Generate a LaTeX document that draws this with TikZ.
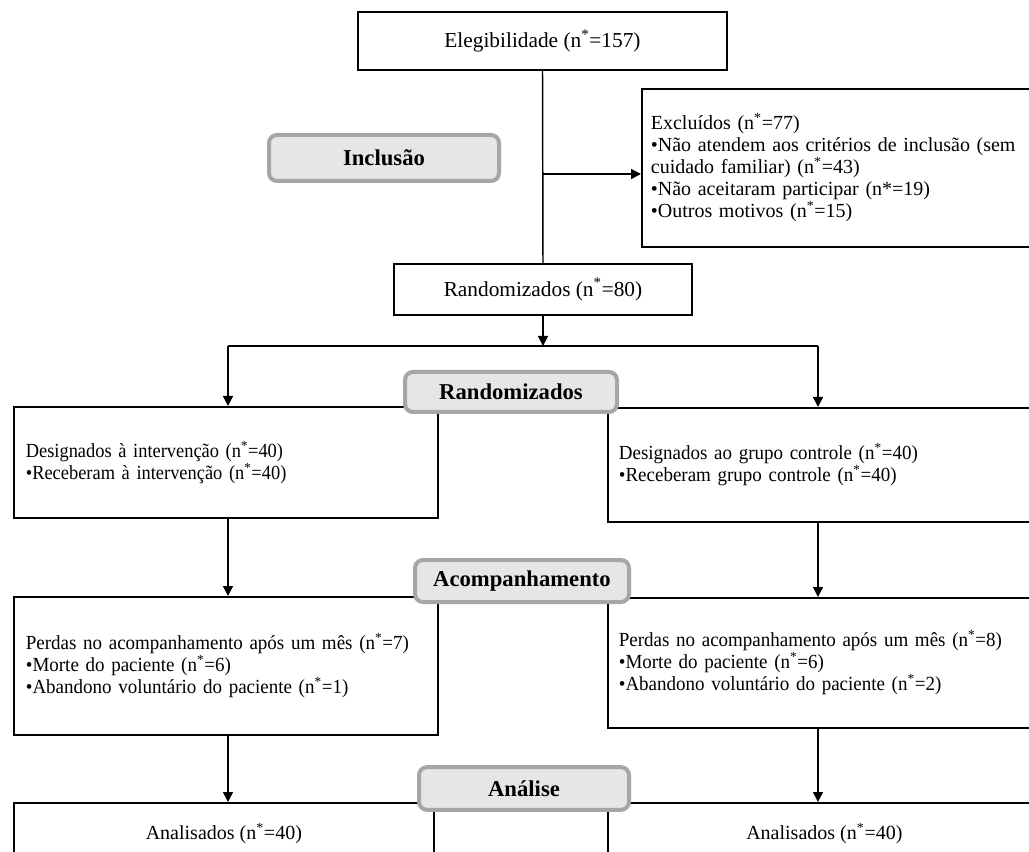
\documentclass[tikz,border=0pt]{standalone}
\usepackage{fontspec}
\setmainfont{Liberation Serif}
\newfontfamily\serifestreita[FakeStretch=0.95]{Liberation Serif}
\newfontfamily\serifapertada[FakeStretch=0.92]{Liberation Serif}
\usetikzlibrary{arrows.meta}

\definecolor{etapaborda}{RGB}{166,166,166}
\definecolor{etapafundo}{RGB}{230,230,230}

\tikzset{every picture/.style={line width=0.75pt}}
\tikzset{
	caixa/.style={draw, line width=1.3pt, rectangle, font=\fontsize{15}{16.5}\selectfont},
	grupo/.style={caixa, anchor=north west, align=left, font=\serifestreita\fontsize{15}{16.5}\selectfont},
	etapa/.style={draw=etapaborda, fill=etapafundo, line width=3pt, rounded corners=6pt, inner sep=0pt, font=\bfseries\fontsize{17}{20}\selectfont},
	seta/.style={-{Triangle[length=7.5pt,width=7.5pt]}, line width=1.1pt},
	linha/.style={line width=1.1pt}}

\begin{document}
\begin{tikzpicture}[x=0.75pt,y=0.75pt,yscale=-1,xscale=1]
	\useasboundingbox (0,0) rectangle (1029,852);
	\clip (0,0) rectangle (1029,852);

	% Text Node
	\node (eleg) [caixa, font=\fontsize{16}{18}\selectfont, minimum width=276.75pt, minimum height=43.5pt] at (542.5,41) {Elegibilidade (n\textsuperscript{*}=157)};
	% Text Node
	\node (rand) [caixa, font=\fontsize{16}{18}\selectfont, minimum width=223.5pt, minimum height=38.25pt] at (543,289.5) {Randomizados (n\textsuperscript{*}=80)};
	% Text Node
	\node (excl) [caixa, anchor=north west, inner xsep=6.75pt, text width=279pt, minimum height=118.5pt, align=left] at (641,88) {Excluídos (n\textsuperscript{*}=77)\\\makebox[279pt][s]{•Não atendem aos critérios de inclusão (sem}\\cuidado familiar) (n\textsuperscript{*}=43)\\•Não aceitaram participar (n*=19)\\•Outros motivos (n\textsuperscript{*}=15)};

	% Text Node
	\node (grpA) [grupo, font=\serifapertada\fontsize{15}{16.5}\selectfont, inner xsep=9pt, text width=300pt, minimum height=83.25pt] at (13,406) {Designados à intervenção (n\textsuperscript{*}=40)\\•Receberam à intervenção (n\textsuperscript{*}=40)};
	% Text Node
	\node (grpB) [grupo, inner xsep=8.25pt, text width=307.5pt, minimum height=85.5pt] at (607,407) {Designados ao grupo controle (n\textsuperscript{*}=40)\\•Receberam grupo controle (n\textsuperscript{*}=40)};

	% Text Node
	\node (perdA) [grupo, inner xsep=9pt, text width=300pt, minimum height=103.5pt] at (13,596) {Perdas no acompanhamento após um mês (n\textsuperscript{*}=7)\\•Morte do paciente (n\textsuperscript{*}=6)\\•Abandono voluntário do paciente (n\textsuperscript{*}=1)};
	% Text Node
	\node (perdB) [grupo, inner xsep=8.25pt, text width=307.5pt, minimum height=97.5pt] at (607,597) {Perdas no acompanhamento após um mês (n\textsuperscript{*}=8)\\•Morte do paciente (n\textsuperscript{*}=6)\\•Abandono voluntário do paciente (n\textsuperscript{*}=2)};

	% Text Node
	\node (analA) [caixa, anchor=north west, minimum width=315pt, minimum height=46.5pt] at (13,802) {Analisados (n\textsuperscript{*}=40)};
	% Text Node
	\node (analB) [caixa, anchor=north west, minimum width=324.75pt, minimum height=46.5pt] at (607,802) {Analisados (n\textsuperscript{*}=40)};

	% Connectors
	\coordinate (exclin) at (543,174);
	\coordinate (split) at (543,346);
	\coordinate (splitA) at (228,346);
	\coordinate (splitB) at (818,346);
	\draw [linha] (eleg.south) -- (rand.north);
	\draw [seta] (exclin) -- (exclin -| excl.west);
	\draw [seta] (rand.south) -- (split);
	\draw [linha] (splitA) -- (splitB);
	\draw [seta] (splitA) -- (splitA |- grpA.north);
	\draw [seta] (splitB) -- (splitB |- grpB.north);
	\draw [seta] (splitA |- grpA.south) -- (splitA |- perdA.north);
	\draw [seta] (splitB |- grpB.south) -- (splitB |- perdB.north);
	\draw [seta] (splitA |- perdA.south) -- (splitA |- analA.north);
	\draw [seta] (splitB |- perdB.south) -- (splitB |- analB.north);

	% Stage labels
	\node (inclusao) [etapa, minimum width=172.5pt, minimum height=34.5pt] at (384,158) {Inclusão};
	\node (randlab) [etapa, minimum width=159pt, minimum height=30pt] at (511,392) {Randomizados};
	\node (acomp) [etapa, minimum width=160.5pt, minimum height=31.5pt] at (522,581) {Acompanhamento};
	\node (analise) [etapa, minimum width=157.5pt, minimum height=32pt] at (524,788.5) {Análise};

\end{tikzpicture}
\end{document}
